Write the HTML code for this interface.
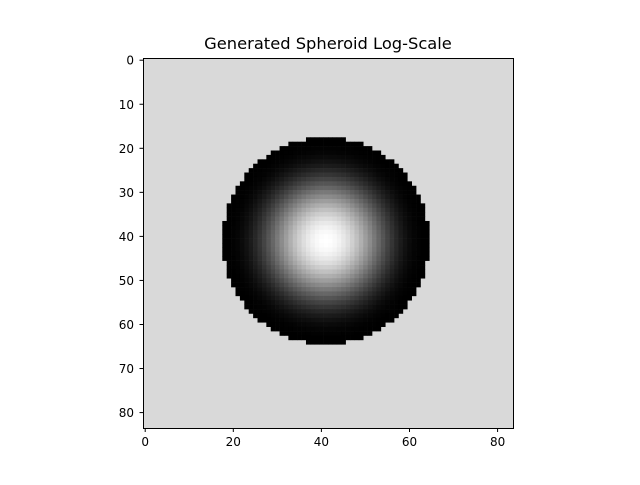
<!DOCTYPE html>
<html><head><meta charset="utf-8"><style>
body{margin:0;background:#fff;width:640px;height:480px;overflow:hidden;font-family:"Liberation Sans","DejaVu Sans",sans-serif;}
svg text{font-family:"DejaVu Sans","Liberation Sans",sans-serif;}
</style></head><body>
<svg id="chart" width="640" height="480" xmlns="http://www.w3.org/2000/svg">
<text x="328" y="49" font-size="16.3" text-anchor="middle">Generated Spheroid Log-Scale</text>
<g id="img"></g>
<rect x="143.5" y="58.5" width="370" height="370" fill="none" stroke="#000" stroke-width="1"/>
<g id="ticks"></g>
</svg>
<script>
const gridSize = [84];
const sphereCenter = [41, 41];
const sphereRadius = [23.5];
const xTicks = [0, 20, 40, 60, 80];
const yTicks = [0, 10, 20, 30, 40, 50, 60, 70, 80];
const bgValue = [0.85];
const x0 = 143, y0 = 58, W = 370;
const N = gridSize[0];
const cs = W / N;
const sx = v => x0 + (v + 0.5) * cs;
const sy = v => y0 + (v + 0.5) * cs;
const ns = 'http://www.w3.org/2000/svg';
const g = document.getElementById('img');
const bg = document.createElementNS(ns, 'rect');
bg.setAttribute('x', x0); bg.setAttribute('y', y0); bg.setAttribute('width', W); bg.setAttribute('height', W);
const bgc = Math.round(bgValue[0] * 255);
bg.setAttribute('fill', `rgb(${bgc},${bgc},${bgc})`);


g.appendChild(bg);
const R = sphereRadius[0];
for (let r = 0; r < N; r++) for (let c = 0; c < N; c++) {
  const dx = c - sphereCenter[0], dy = r - sphereCenter[1];
  const d2 = dx * dx + dy * dy;
  if (d2 > R * R) continue;
  const t = Math.sqrt(R * R - d2) / R;
  const v = Math.round(255 * Math.pow(t, 6));
  const el = document.createElementNS(ns, 'rect');
  el.setAttribute('x', (x0 + c * cs).toFixed(2)); el.setAttribute('y', (y0 + r * cs).toFixed(2));
  el.setAttribute('width', (cs + 0.3).toFixed(2)); el.setAttribute('height', (cs + 0.3).toFixed(2));
  el.setAttribute('fill', `rgb(${v},${v},${v})`);
  
  
  g.appendChild(el);
}
const tg = document.getElementById('ticks');
xTicks.forEach(v => {
  const x = sx(v);
  const l = document.createElementNS(ns, 'line');
  l.setAttribute('x1', x); l.setAttribute('x2', x); l.setAttribute('y1', 428.5); l.setAttribute('y2', 432);
  l.setAttribute('stroke', '#000');
  
  
  tg.appendChild(l);
  const t = document.createElementNS(ns, 'text');
  t.setAttribute('x', x); t.setAttribute('y', 446); t.setAttribute('font-size', '12'); t.setAttribute('text-anchor', 'middle');
  t.textContent = v;
  
  
  tg.appendChild(t);
});
yTicks.forEach(v => {
  const y = sy(v);
  const l = document.createElementNS(ns, 'line');
  l.setAttribute('x1', 139.5); l.setAttribute('x2', 143); l.setAttribute('y1', y); l.setAttribute('y2', y);
  l.setAttribute('stroke', '#000');
  
  
  tg.appendChild(l);
  const t = document.createElementNS(ns, 'text');
  t.setAttribute('x', 134); t.setAttribute('y', y + 4.5); t.setAttribute('font-size', '12'); t.setAttribute('text-anchor', 'end');
  t.textContent = v;
  
  
  tg.appendChild(t);
});
</script>
</body></html>
